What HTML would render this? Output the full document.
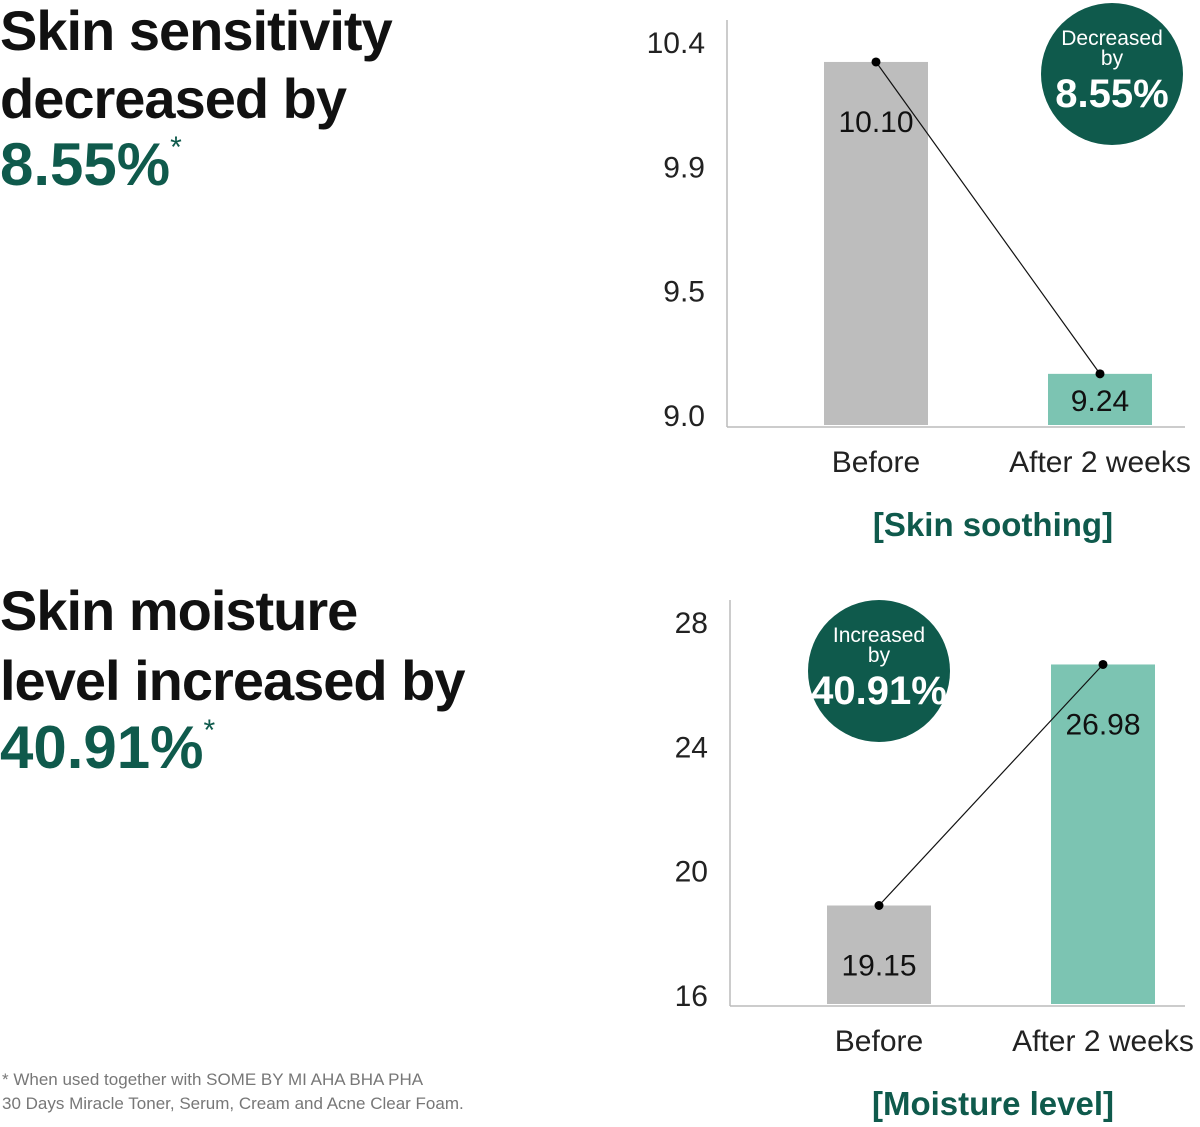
<!DOCTYPE html>
<html><head><meta charset="utf-8">
<style>
html,body{margin:0;padding:0;background:#fff;width:1200px;height:1127px;overflow:hidden}
svg{display:block}
.h{font-family:"Liberation Sans",sans-serif;font-weight:700;fill:#111}
.g{fill:#0f5a4c}
.n{font-family:"Liberation Sans Narrow","Liberation Sans",sans-serif}
</style></head><body>
<svg id="s" width="1200" height="1127" viewBox="0 0 1200 1127" xmlns="http://www.w3.org/2000/svg">
<g>
<text class="h" x="0" y="50" font-size="56" letter-spacing="-1">Skin sensitivity</text>
<text class="h" x="0" y="118" font-size="56" letter-spacing="-1">decreased by</text>
<text class="h g" x="0" y="185" font-size="60">8.55%<tspan font-size="30" dy="-28" font-weight="400">*</tspan></text>
</g>
<g>
<text class="h" x="0" y="630" font-size="56" letter-spacing="-1">Skin moisture</text>
<text class="h" x="0" y="700" font-size="56" letter-spacing="-1">level increased by</text>
<text class="h g" x="0" y="768" font-size="60">40.91%<tspan font-size="30" dy="-28" font-weight="400">*</tspan></text>
</g>
<g font-family="Liberation Sans,sans-serif" font-size="17" fill="#777">
<text x="2" y="1085">* When used together with SOME BY MI AHA BHA PHA</text>
<text x="2" y="1109">30 Days Miracle Toner, Serum, Cream and Acne Clear Foam.</text>
</g>
<g id="c1"></g>
<g id="c2"></g>
</svg>
<script>
const cats1 = ["Before", "After 2 weeks"];
const vals1 = [10.10, 9.24];
const ticks1 = ["10.4", "9.9", "9.5", "9.0"];
const cats2 = ["Before", "After 2 weeks"];
const vals2 = [19.15, 26.98];
const ticks2 = ["28", "24", "20", "16"];
const NS = "http://www.w3.org/2000/svg";
function mk(p, tag, at, txt) {
  const e = document.createElementNS(NS, tag);
  for (const k in at) e.setAttribute(k, at[k]);
  if (txt !== undefined) e.textContent = txt;
  p.appendChild(e);
  return e;
}
function chart(g, cats, vals, ticks, o) {
  // o: axisX, top, base, tickTop, tickBot, domain [lo,hi] mapped to [base, yTop]
  const y = v => o.base - (v - o.lo) / (o.hi - o.lo) * (o.base - o.yTop);
  const x = i => o.c0 + i * o.step;
  const ax = mk(g, "line", {x1: o.axisX, y1: o.top, x2: o.axisX, y2: o.base + 2, stroke: "#bbb", "stroke-width": 1.5});
  
  
  const bl = mk(g, "line", {x1: o.axisX, y1: o.base + 2, x2: 1185, y2: o.base + 2, stroke: "#bbb", "stroke-width": 1.5});
  
  
  ticks.forEach((t, i) => {
    const ty = o.tickTop + i * (o.tickBot - o.tickTop) / (ticks.length - 1);
    const e = mk(g, "text", {x: o.axisX - 22, y: ty + 11, "text-anchor": "end", "font-size": 30, fill: "#222", class: "n"}, t);
    
    
  });
  const cols = ["#bdbdbd", "#7cc4b2"];
  vals.forEach((v, i) => {
    const b = mk(g, "rect", {x: x(i) - 52, y: y(v), width: 104, height: o.base - y(v), fill: cols[i]});
    
    
    const l = mk(g, "text", {x: x(i), y: y(v) + (o.base - y(v) < 80 ? 37 : 70), "text-anchor": "middle", "font-size": 30, fill: "#111", class: "n"}, v.toFixed(2));
    
    
    const c = mk(g, "text", {x: x(i), y: o.base + 47, "text-anchor": "middle", "font-size": 30, fill: "#222", class: "n"}, cats[i]);
    
    
  });
  const ln = mk(g, "line", {x1: x(0), y1: y(vals[0]), x2: x(1), y2: y(vals[1]), stroke: "#111", "stroke-width": 1.2});
  
  
  vals.forEach((v, i) => {
    const d = mk(g, "circle", {cx: x(i), cy: y(v), r: 4.5, fill: "#000"});
    
    
  });
  const t = mk(g, "text", {x: 993, y: o.base + 111, "text-anchor": "middle", "font-size": 33, "font-weight": 700, fill: "#0f5a4c", class: "n"}, o.title);
  
  
  const bd = mk(g, "g", {});
  
  
  mk(bd, "circle", {cx: o.bx, cy: o.by, r: 71, fill: "#0f5a4c"});
  mk(bd, "text", {x: o.bx, y: o.by - 29, "text-anchor": "middle", "font-size": 21, fill: "#fff", class: "n"}, o.b1);
  mk(bd, "text", {x: o.bx, y: o.by - 9, "text-anchor": "middle", "font-size": 21, fill: "#fff", class: "n"}, "by");
  mk(bd, "text", {x: o.bx, y: o.by + 33, "text-anchor": "middle", "font-size": 40, "font-weight": 700, fill: "#fff", class: "n"}, o.b2);
}
chart(document.getElementById("c1"), cats1, vals1, ticks1,
  {axisX: 727, top: 20, base: 425, yTop: 42, lo: 9.099, hi: 10.155, tickTop: 42, tickBot: 415, c0: 876, step: 224,
   title: "[Skin soothing]", bx: 1112, by: 74, b1: "Decreased", b2: "8.55%"});
chart(document.getElementById("c2"), cats2, vals2, ticks2,
  {axisX: 730, top: 600, base: 1004, yTop: 622, lo: 15.95, hi: 28.36, tickTop: 622, tickBot: 995, c0: 879, step: 224,
   title: "[Moisture level]", bx: 879, by: 671, b1: "Increased", b2: "40.91%"});
</script>
</body></html>
